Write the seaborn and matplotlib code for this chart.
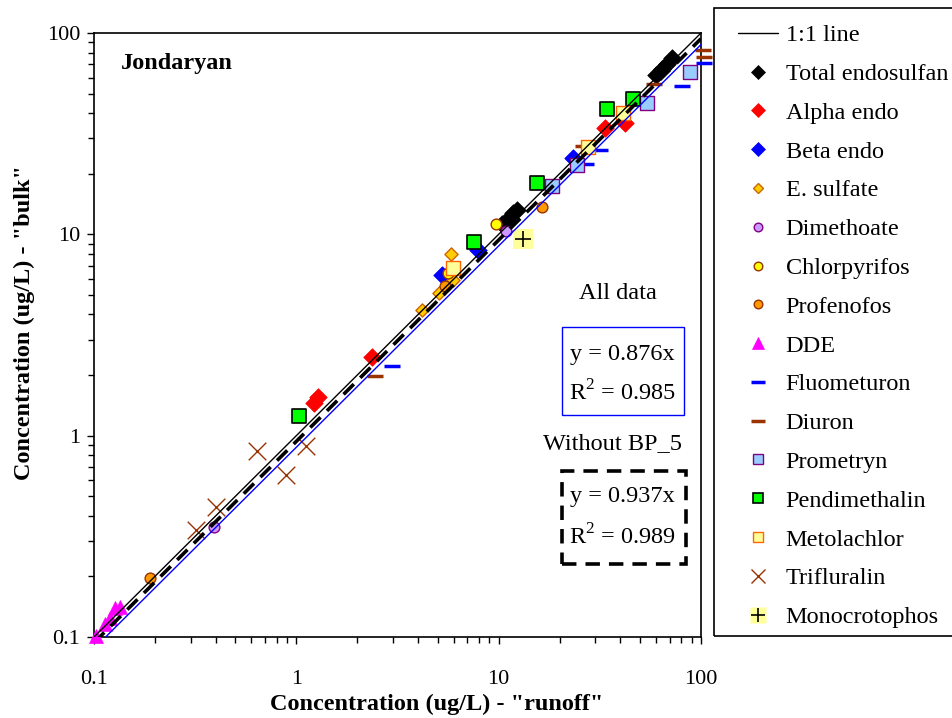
import matplotlib
matplotlib.use("Agg")
import matplotlib.pyplot as plt
from matplotlib.lines import Line2D
from matplotlib.patches import Rectangle
import matplotlib.ticker as mticker
import seaborn as sns
import numpy as np

# ---------------- data ----------------
total_x = [10.4, 11.0, 11.8, 12.3, 60, 64, 68, 72]
total_y = [11.2, 11.8, 12.8, 13.2, 62, 66, 70, 75]
alpha_x = [1.22, 1.28, 2.37, 33.6, 42.2]
alpha_y = [1.45, 1.55, 2.46, 33.8, 35.7]
beta_x = [5.25, 7.9, 23.3]
beta_y = [6.28, 8.36, 24.0]
esulf_x = [4.18, 5.07, 5.95, 5.82]
esulf_y = [4.2, 5.1, 5.93, 8.0]
dimeth_x = [0.39, 10.9]
dimeth_y = [0.35, 10.4]
chlor_x = [5.6, 9.7]
chlor_y = [6.4, 11.3]
profen_x = [0.19, 5.43, 16.4]
profen_y = [0.196, 5.55, 13.7]
dde_x = [0.102, 0.113, 0.12, 0.127, 0.135]
dde_y = [0.101, 0.116, 0.124, 0.139, 0.141]
fluo_x = [2.97, 27.0, 31.7, 80.8, 104]
fluo_y = [2.22, 22.4, 26.2, 54.6, 71]
diuron_x = [2.45, 26.0, 58.6, 104, 102]
diuron_y = [1.98, 27.5, 55.8, 76, 82.5]
promet_x = [18.4, 24.4, 54.2, 88.3]
promet_y = [17.4, 22.1, 45, 64]
pendi_x = [1.03, 7.55, 15.5, 34.4, 46.1]
pendi_y = [1.25, 9.17, 18.0, 42, 47.1]
metol_x = [5.95, 27.7, 41.2]
metol_y = [6.8, 27.2, 40]
triflu_x = [0.32, 0.40, 0.64, 0.89, 1.12]
triflu_y = [0.34, 0.44, 0.84, 0.64, 0.89]
mono_x = [13.2]
mono_y = [9.5]

line_x = [0.1, 100]
slope_all = 0.876
slope_nobp5 = 0.937

tick_vals = [0.1, 1, 10, 100]
tick_labels = ["0.1", "1", "10", "100"]

# ---------------- style ----------------
sns.set_theme(style="white")
plt.rcParams['font.family'] = ['Liberation Serif', 'DejaVu Serif']
plt.rcParams['mathtext.fontset'] = 'custom'
plt.rcParams['mathtext.rm'] = 'Liberation Serif'

FS = 17.5

fig = plt.figure(figsize=(9.53, 7.18), dpi=100)
ax = fig.add_axes([94/953, 1-637/718, 607/953, 604/718])
ax.set_xscale('log')
ax.set_yscale('log')
ax.set_xlim(0.1, 100)
ax.set_ylim(0.1, 100)

series = [
    # name, x, y, marker, face, edge, size, lw
    ("Total endosulfan", total_x, total_y, 'D', 'black', 'black', 80, 0.5),
    ("Alpha endo", alpha_x, alpha_y, 'D', '#FF0000', '#FF0000', 80, 0.5),
    ("Beta endo", beta_x, beta_y, 'D', '#0000FF', '#0000FF', 80, 0.5),
    ("E. sulfate", esulf_x, esulf_y, 'D', '#FFCC00', '#CC6600', 45, 1.0),
    ("Dimethoate", dimeth_x, dimeth_y, 'o', '#CC99FF', '#800080', 60, 1.0),
    ("Chlorpyrifos", chlor_x, chlor_y, 'o', '#FFFF00', '#993300', 60, 1.0),
    ("Profenofos", profen_x, profen_y, 'o', '#FF9900', '#993300', 60, 1.0),
    ("DDE", dde_x, dde_y, '^', '#FF00FF', '#FF00FF', 100, 0.5),
    ("Fluometuron", fluo_x, fluo_y, '_', '#0000FF', '#0000FF', 140, 2.5),
    ("Diuron", diuron_x, diuron_y, '_', '#993300', '#993300', 140, 2.5),
    ("Prometryn", promet_x, promet_y, 's', '#99CCFF', '#800080', 95, 1.0),
    ("Pendimethalin", pendi_x, pendi_y, 's', '#00FF00', 'black', 95, 1.2),
    ("Metolachlor", metol_x, metol_y, 's', '#FFFF99', '#FF6600', 95, 1.0),
    ("Trifluralin", triflu_x, triflu_y, 'x', '#993300', '#993300', 160, 1.0),
]

for name, xs, ys, mk, fc, ec, s, lw in series:
    if mk in ('_', 'x', '+'):
        sns.scatterplot(x=xs, y=ys, marker=mk, color=fc, s=s, linewidth=lw,
                        ax=ax, clip_on=False, zorder=3)
    else:
        sns.scatterplot(x=xs, y=ys, marker=mk, color=fc, edgecolor=ec, s=s,
                        linewidth=lw, ax=ax, clip_on=False, zorder=3)

# Monocrotophos: pale yellow square with black plus
sns.scatterplot(x=mono_x, y=mono_y, marker='s', color='#FFFF99', edgecolor='none',
                s=210, ax=ax, zorder=3)
sns.scatterplot(x=mono_x, y=mono_y, marker='+', color='black', s=120, linewidth=1.2,
                ax=ax, zorder=3.1)

# lines
lx = np.array(line_x)
sns.lineplot(x=lx, y=lx, color='black', linewidth=1.0, ax=ax, zorder=4)
sns.lineplot(x=lx, y=slope_all * lx, color='#0000FF', linewidth=1.0, ax=ax, zorder=4)
sns.lineplot(x=lx, y=slope_nobp5 * lx, color='black', linewidth=2.6, ax=ax, zorder=4,
             linestyle=(0, (4, 2.5)))

# axes styling
for sp in ax.spines.values():
    sp.set_visible(True)
    sp.set_color('black')
    sp.set_linewidth(1.2)
ax.grid(False)
ax.set_xticks(tick_vals)
ax.set_xticklabels(tick_labels)
ax.set_yticks(tick_vals)
ax.set_yticklabels(tick_labels)
ax.xaxis.set_minor_locator(mticker.LogLocator(base=10, subs=np.arange(2, 10)))
ax.yaxis.set_minor_locator(mticker.LogLocator(base=10, subs=np.arange(2, 10)))
ax.xaxis.set_minor_formatter(mticker.NullFormatter())
ax.yaxis.set_minor_formatter(mticker.NullFormatter())
ax.tick_params(axis='both', which='major', direction='out', length=5, width=1,
               color='black', labelsize=16, labelcolor='black',
               bottom=True, left=True, top=False, right=False)
ax.tick_params(axis='both', which='minor', direction='out', length=4, width=1,
               color='black', bottom=True, left=True, top=False, right=False)
ax.tick_params(axis='x', which='major', pad=19)
ax.tick_params(axis='y', which='major', pad=5)

ax.set_xlabel('Concentration (ug/L) - "runoff"', fontsize=FS, fontweight='bold', color='black')
ax.set_ylabel('Concentration (ug/L) - "bulk"', fontsize=FS, fontweight='bold', color='black')
ax.xaxis.set_label_coords((437-94)/607, (637-704)/604)
ax.yaxis.set_label_coords((24-94)/607, (637-322)/604)
ax.xaxis.label.set_va('center')
ax.yaxis.label.set_va('center')

# annotations
ax.text(0.044, 0.95, 'Jondaryan', transform=ax.transAxes, fontsize=FS,
        fontweight='bold', ha='left', va='center', color='black')
ax.text(0.863, 0.568, 'All data', transform=ax.transAxes, fontsize=FS,
        ha='center', va='center', color='black')
ax.add_patch(Rectangle((0.771, 0.3675), 0.201, 0.146, transform=ax.transAxes,
                       fill=False, edgecolor='#0000FF', linewidth=1.0, zorder=5))
ax.text(0.871, 0.467, 'y = 0.876x', transform=ax.transAxes, fontsize=FS,
        ha='center', va='center', color='black')
ax.text(0.871, 0.404, 'R$^2$ = 0.985', transform=ax.transAxes, fontsize=FS,
        ha='center', va='center', color='black')
ax.text(0.855, 0.321, 'Without BP_5', transform=ax.transAxes, fontsize=FS,
        ha='center', va='center', color='black')
ax.add_patch(Rectangle((0.771, 0.121), 0.204, 0.154, transform=ax.transAxes,
                       fill=False, edgecolor='black', linewidth=2.6,
                       linestyle=(0, (4, 2.5)), zorder=5))
ax.text(0.871, 0.232, 'y = 0.937x', transform=ax.transAxes, fontsize=FS,
        ha='center', va='center', color='black')
ax.text(0.871, 0.166, 'R$^2$ = 0.989', transform=ax.transAxes, fontsize=FS,
        ha='center', va='center', color='black')

# legend
handles = [Line2D([0], [0], color='black', linewidth=1.0)]
labels = ["1:1 line"]
for name, xs, ys, mk, fc, ec, s, lw in series:
    ms = np.sqrt(s) * 0.8
    if mk in ('_', 'x', '+'):
        h = Line2D([0], [0], linestyle='none', marker=mk, color=fc,
                   markersize=ms, markeredgewidth=lw)
    else:
        h = Line2D([0], [0], linestyle='none', marker=mk, markerfacecolor=fc,
                   markeredgecolor=ec, markersize=ms, markeredgewidth=lw)
    handles.append(h)
    labels.append(name)
h_bg = Line2D([0], [0], linestyle='none', marker='s', markerfacecolor='#FFFF99',
              markeredgecolor='none', markersize=11)
h_pl = Line2D([0], [0], linestyle='none', marker='+', color='black',
              markersize=10, markeredgewidth=1.2)
handles.append((h_bg, h_pl))
labels.append("Monocrotophos")

fig.add_artist(Rectangle((714/953, 1-636/718), 260/953, 628/718,
                         transform=fig.transFigure, fill=False,
                         edgecolor='black', linewidth=1.2))
leg = fig.legend(handles, labels, loc='upper left',
                 bbox_to_anchor=(731/953, 1-17/718), frameon=False,
                 fontsize=FS, handlelength=1.65, handletextpad=0.3,
                 labelspacing=0.69, borderpad=0.3, borderaxespad=0)
for t in leg.get_texts():
    t.set_color('black')

fig.savefig('out.png', dpi=100)
